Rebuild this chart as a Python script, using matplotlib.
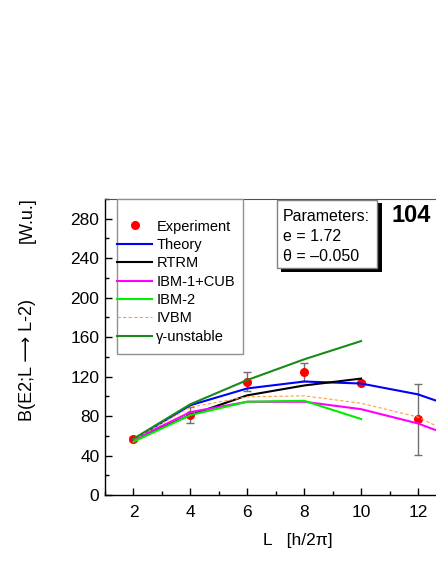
import matplotlib
matplotlib.use("Agg")
import matplotlib.pyplot as plt
from matplotlib.patches import Rectangle
from matplotlib.ticker import MultipleLocator

plt.rcParams['font.family'] = ['Liberation Sans', 'DejaVu Sans']

# ---- data ----
L_exp = [2, 4, 6, 8, 10, 12]
B_exp = [57, 81, 115, 125, 114, 77]
B_err = [2, 8, 10, 9, 2, 36]

L_theory = [2, 4, 6, 8, 10, 12, 14]
B_theory = [56, 91, 108, 115, 113, 102, 82]

L_rtrm = [2, 4, 6, 8, 10]
B_rtrm = [56, 81, 101, 111, 118]

L_ibm1 = [2, 4, 6, 8, 10, 12, 14]
B_ibm1 = [56, 84, 94.5, 94.5, 87, 72.5, 51]

L_ibm2 = [2, 4, 6, 8, 10]
B_ibm2 = [54, 81, 94.5, 95.5, 77]

L_ivbm = [2, 4, 6, 8, 10, 12, 14]
B_ivbm = [56, 89, 99.5, 100.5, 93, 79, 51]

L_gu = [2, 4, 6, 8, 10]
B_gu = [57, 92, 116.5, 137.5, 156]

W, H = 436, 564
fig = plt.figure(figsize=(W / 100, H / 100), dpi=100)
ax = fig.add_axes([105 / W, (H - 495) / H, 341.4 / W, 296 / H])

ax.errorbar(L_exp, B_exp, yerr=B_err, fmt='none', ecolor='#707070',
            elinewidth=1, capsize=3, capthick=1, zorder=2)
ax.plot(L_exp, B_exp, 'o', color='red', markersize=5.5, ls='none',
        zorder=2, label='Experiment')
ax.plot(L_theory, B_theory, color='#0000ff', lw=1.5, label='Theory', zorder=3)
ax.plot(L_rtrm, B_rtrm, color='black', lw=1.5, label='RTRM', zorder=3)
ax.plot(L_ibm1, B_ibm1, color='#ff00ff', lw=1.5, label='IBM-1+CUB', zorder=3)
ax.plot(L_ibm2, B_ibm2, color='#00ee00', lw=1.5, label='IBM-2', zorder=3)
ax.plot(L_ivbm, B_ivbm, color='#ffa040', lw=0.8, ls=(0, (3, 2)), label='IVBM', zorder=3)
ax.plot(L_gu, B_gu, color='#1a8a1a', lw=1.5, label='γ-unstable', zorder=3)

ax.set_xlim(1, 13)
ax.set_ylim(0, 300)
ax.xaxis.set_major_locator(MultipleLocator(2))
ax.xaxis.set_minor_locator(MultipleLocator(1))
ax.yaxis.set_major_locator(MultipleLocator(40))
ax.yaxis.set_minor_locator(MultipleLocator(20))
ax.tick_params(which='both', direction='in', labelsize=12.5, width=1)
ax.tick_params(which='major', length=5)
ax.tick_params(which='minor', length=3)
ax.tick_params(axis='x', pad=7)
ax.tick_params(axis='y', pad=4)
ax.spines['top'].set_color('#505050')
for s in ['left', 'bottom']:
    ax.spines[s].set_linewidth(1)

# legend frame
fig.patches.append(Rectangle((116.7 / W, (H - 354) / H), 126.3 / W, 155 / H,
                             transform=fig.transFigure, facecolor='white',
                             edgecolor='#909090', lw=1, zorder=5))
leg = fig.legend(loc='upper left', bbox_to_anchor=(117 / W, (H - 219.5) / H),
                 frameon=False, fontsize=10.5, handlelength=2.4, handletextpad=0.3,
                 labelspacing=0.3, borderpad=0, borderaxespad=0, numpoints=1)
leg.set_zorder(6)

# parameters box with shadow
fig.patches.append(Rectangle((281 / W, (H - 272.3) / H), 100.7 / W, 69 / H,
                             transform=fig.transFigure, facecolor='black',
                             edgecolor='black', lw=0, zorder=5))
fig.patches.append(Rectangle((276.7 / W, (H - 268.3) / H), 100.6 / W, 68.3 / H,
                             transform=fig.transFigure, facecolor='white',
                             edgecolor='#808080', lw=1, zorder=5))
for txt, yy in [('Parameters:', 216.5), ('e = 1.72', 236.5), ('θ = –0.050', 256.5)]:
    fig.text(283 / W, (H - yy) / H, txt, fontsize=11.5, ha='left', va='center',
             zorder=7)

fig.text(391 / W, (H - 216) / H, '104', fontsize=17, fontweight='bold',
         ha='left', va='center')

fig.text(27 / W, (H - 360) / H, 'B(E2;L ⟶ L-2)', rotation=90,
         fontsize=13, ha='center', va='center')
fig.text(27 / W, (H - 220) / H, '[W.u.]', rotation=90,
         fontsize=13, ha='center', va='center')
fig.text(298 / W, (H - 540) / H, 'L   [h/2π]', fontsize=12.5, ha='center',
         va='center')

fig.savefig('out.png', dpi=100)
